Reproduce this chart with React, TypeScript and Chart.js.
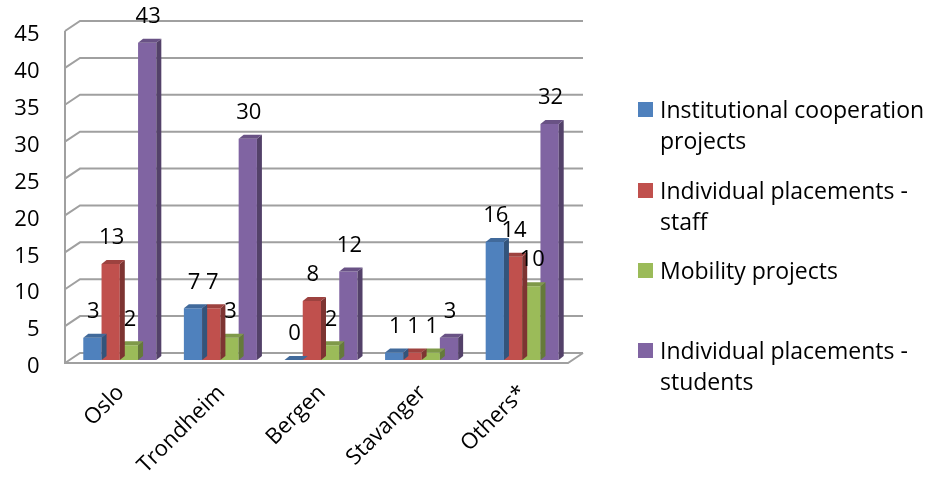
import React, { useEffect, useRef } from "react";
import { Chart, registerables } from "chart.js";

Chart.register(...registerables);

const categories = ["Oslo", "Trondheim", "Bergen", "Stavanger", "Others*"];
const institutionalCooperation = [3, 7, 0, 1, 16];
const placementsStaff = [13, 7, 8, 1, 14];
const mobilityProjects = [2, 3, 2, 1, 10];
const placementsStudents = [43, 30, 12, 3, 32];
const seriesNames = [
  "Institutional cooperation projects",
  "Individual placements - staff",
  "Mobility projects",
  "Individual placements - students",
];
const legendLines = [
  ["Institutional cooperation", "projects"],
  ["Individual placements -", "staff"],
  ["Mobility projects"],
  ["Individual placements -", "students"],
];
const yMax = 45;
const yStep = 5;

const COLORS = ["#4F81BD", "#C0504D", "#9BBB59", "#8064A2"];
const GRID = "#a0a0a0";
const FONT = "'Open Sans', sans-serif";
const FRONT = { dx: -4.5, dy: 3 };
const BACK = { dx: 10.5, dy: -7 };
const DEPTH = { dx: 5, dy: -4 };

function shade(hex: string, f: number) {
  const n = parseInt(hex.slice(1), 16);
  const r = Math.round(((n >> 16) & 255) * f);
  const g = Math.round(((n >> 8) & 255) * f);
  const b = Math.round((n & 255) * f);
  return `rgb(${r},${g},${b})`;
}

const box3d = {
  id: "box3d",
  beforeDatasetsDraw(chart: any) {
    const { ctx, chartArea: a, scales } = chart;
    const y = scales.y;
    ctx.save();
    ctx.strokeStyle = GRID;
    ctx.lineWidth = 2;
    const fx = a.left + FRONT.dx;
    const bx = a.left + BACK.dx;
    const rfx = a.right + FRONT.dx;
    const rbx = a.right + BACK.dx;
    y.ticks.forEach((t: any) => {
      const py = y.getPixelForValue(t.value);
      ctx.beginPath();
      ctx.moveTo(fx, py + FRONT.dy);
      ctx.lineTo(bx, py + BACK.dy);
      ctx.lineTo(rbx, py + BACK.dy);
      ctx.stroke();
    });
    const y0 = y.getPixelForValue(0);
    const yTop = y.getPixelForValue(y.max);
    ctx.beginPath();
    ctx.moveTo(fx, yTop + FRONT.dy);
    ctx.lineTo(fx, y0 + FRONT.dy);
    ctx.lineTo(rfx, y0 + FRONT.dy);
    ctx.lineTo(rbx, y0 + BACK.dy);
    ctx.stroke();
    ctx.restore();
  },
  afterDatasetDraw(chart: any, args: any) {
    const { ctx } = chart;
    const meta = chart.getDatasetMeta(args.index);
    const col = COLORS[args.index];
    ctx.save();
    meta.data.forEach((bar: any) => {
      const { x, y, base, width } = bar.getProps(["x", "y", "base", "width"], true);
      const l = x - width / 2;
      const r = x + width / 2;
      ctx.fillStyle = shade(col, 0.65);
      ctx.beginPath();
      ctx.moveTo(r, base);
      ctx.lineTo(r + DEPTH.dx, base + DEPTH.dy);
      ctx.lineTo(r + DEPTH.dx, y + DEPTH.dy);
      ctx.lineTo(r, y);
      ctx.closePath();
      ctx.fill();
      ctx.fillStyle = shade(col, 0.82);
      ctx.beginPath();
      ctx.moveTo(l, y);
      ctx.lineTo(r, y);
      ctx.lineTo(r + DEPTH.dx, y + DEPTH.dy);
      ctx.lineTo(l + DEPTH.dx, y + DEPTH.dy);
      ctx.closePath();
      ctx.fill();
    });
    ctx.restore();
  },
  afterDatasetsDraw(chart: any) {
    const { ctx } = chart;
    ctx.save();
    ctx.font = `22px ${FONT}`;
    ctx.fillStyle = "#000";
    ctx.textAlign = "center";
    ctx.textBaseline = "middle";
    chart.data.datasets.forEach((ds: any, i: number) => {
      const meta = chart.getDatasetMeta(i);
      meta.data.forEach((bar: any, j: number) => {
        const { x, y } = bar.getProps(["x", "y"], true);
        ctx.fillText(String(ds.data[j]), x + 1, y - 26);
      });
    });
    ctx.restore();
  },
};

export default function App() {
  const ref = useRef<HTMLCanvasElement>(null);
  useEffect(() => {
    if (!ref.current) return;
    const series = [institutionalCooperation, placementsStaff, mobilityProjects, placementsStudents];
    const chart = new Chart(ref.current, {
      type: "bar",
      data: {
        labels: categories,
        datasets: series.map((d, i) => ({
          label: seriesNames[i],
          data: d,
          backgroundColor: COLORS[i],
          borderWidth: 0,
          categoryPercentage: 0.726,
          barPercentage: 1,
        })),
      },
      options: {
        animation: false,
        responsive: false,
        devicePixelRatio: 1,
        layout: { padding: { left: 0, top: 28, right: 356.5, bottom: 0 } },
        plugins: { legend: { display: false }, tooltip: { enabled: false } },
        scales: {
          x: {
            grid: { display: false },
            border: { display: false },
            ticks: {
              color: "#000",
              font: { family: FONT, size: 22 },
              minRotation: 45,
              maxRotation: 45,
              padding: 12,
              labelOffset: 1,
              autoSkip: false,
            },
            afterFit: (s: any) => {
              s.height = 120;
            },
          },
          y: {
            min: 0,
            max: yMax,
            grid: { display: false, drawTicks: true, tickLength: 30 },
            border: { display: false },
            ticks: {
              stepSize: yStep,
              color: "#000",
              font: { family: FONT, size: 22 },
              padding: 0,
              labelOffset: 7,
            },
            afterFit: (s: any) => {
              s.width = 69.5;
            },
          },
        },
      },
      plugins: [box3d],
    });
    return () => chart.destroy();
  }, []);

  const centers = [109, 190, 270, 350];
  return (
    <div style={{ position: "absolute", left: 0, top: 0, width: 929, height: 480, background: "#fff" }}>
      <canvas ref={ref} width={929} height={480} style={{ position: "absolute", left: 0, top: 0 }} />
      {legendLines.map((lines, i) => (
        <div key={i}>
          <div
            style={{
              position: "absolute",
              left: 638,
              top: centers[i] - 7.5,
              width: 15,
              height: 15,
              background: COLORS[i],
            }}
          />
          <div
            style={{
              position: "absolute",
              left: 660,
              top: centers[i] - 15.5,
              fontFamily: FONT,
              fontSize: 23,
              lineHeight: "31px",
              color: "#000",
              whiteSpace: "nowrap",
            }}
          >
            {lines.map((t, k) => (
              <div key={k}>{t}</div>
            ))}
          </div>
        </div>
      ))}
    </div>
  );
}
